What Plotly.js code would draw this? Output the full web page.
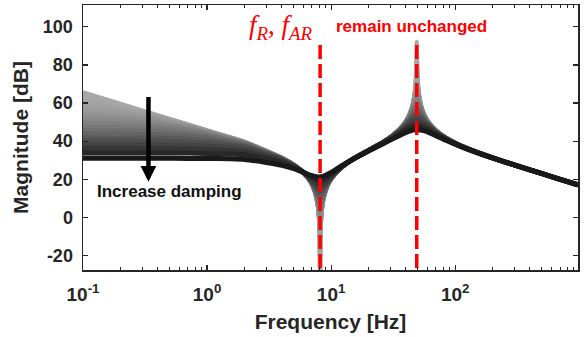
<!DOCTYPE html>
<html><head><meta charset="utf-8">
<script src="https://cdn.plot.ly/plotly-3.0.1.min.js"></script>
<style>html,body{margin:0;padding:0;background:#fff;} #chart{width:587px;height:337px;}</style>
</head><body><div id="chart"></div>
<script>
// ---- data ----
const freqHz = [0.1,0.2,0.4,0.7,1,1.5,2,3,4,5,6,6.8,7.4,7.8,8.0,8.15,8.3,8.6,9.2,10,12,15,20,26,32,38,42,45,47,48.2,49,49.8,51,53,56,61,70,85,110,150,250,400,650,977];

// magnitude [dB], lightest (least damping) -> darkest (most damping)
const dampCurve00 = [65.6,59.6,53.6,48.7,45.6,42.1,39.6,34.8,31.2,27.6,23.4,18.8,13.3,6.5,-1.0,-36,-1.1,8.3,15.4,20.0,25.9,30.5,35.2,39.4,43.5,48.3,52.8,58.0,64.3,72.3,92.0,72.5,64.7,58.8,54.2,49.9,45.6,41.6,37.8,34.2,29.1,24.9,20.6,17.0];
const dampCurve01 = [64.2,59.2,53.5,48.7,45.6,42.1,39.6,34.8,31.2,27.6,23.4,18.8,13.3,6.5,-1.0,-28,-1.1,8.3,15.4,20.0,25.9,30.5,35.2,39.4,43.5,48.3,52.8,58.0,64.2,72.1,84.7,72.3,64.6,58.8,54.2,49.9,45.6,41.6,37.8,34.2,29.1,24.9,20.6,17.0];
const dampCurve02 = [62.6,58.6,53.3,48.6,45.6,42.1,39.6,34.8,31.2,27.6,23.4,18.8,13.3,6.5,-0.9,-22,-1.1,8.3,15.4,20.0,25.9,30.5,35.2,39.4,43.5,48.3,52.8,58.0,64.2,71.7,80.3,71.9,64.6,58.8,54.2,49.9,45.6,41.6,37.8,34.2,29.1,24.9,20.6,17.0];
const dampCurve03 = [61.0,57.9,53.1,48.5,45.5,42.0,39.6,34.8,31.2,27.6,23.4,18.8,13.3,6.5,-0.9,-17,-1.0,8.3,15.4,20.0,25.9,30.5,35.2,39.4,43.5,48.3,52.8,58.0,64.0,71.1,77.0,71.2,64.4,58.8,54.2,49.9,45.6,41.6,37.8,34.2,29.1,24.9,20.6,17.0];
const dampCurve04 = [59.4,57.1,52.8,48.4,45.5,42.0,39.5,34.8,31.2,27.6,23.4,18.8,13.3,6.5,-0.7,-13,-0.9,8.3,15.4,20.0,25.9,30.5,35.2,39.4,43.5,48.3,52.8,57.9,63.9,70.2,74.2,70.3,64.2,58.7,54.2,49.9,45.6,41.6,37.8,34.2,29.1,24.9,20.6,17.0];
const dampCurve05 = [57.8,56.1,52.4,48.3,45.4,42.0,39.5,34.8,31.2,27.6,23.4,18.8,13.3,6.6,-0.4,-9,-0.5,8.4,15.4,20.0,25.9,30.5,35.2,39.4,43.5,48.3,52.8,57.9,63.5,69.0,71.7,69.1,63.9,58.6,54.1,49.9,45.6,41.6,37.8,34.2,29.1,24.9,20.6,17.0];
const dampCurve06 = [56.2,54.9,51.9,48.1,45.3,41.9,39.5,34.8,31.2,27.6,23.4,18.8,13.4,6.7,0.2,-6,0.1,8.4,15.4,20.0,25.9,30.5,35.2,39.4,43.5,48.3,52.7,57.7,63.1,67.6,69.4,67.7,63.4,58.5,54.1,49.9,45.6,41.6,37.8,34.2,29.1,24.9,20.6,17.0];
const dampCurve07 = [54.5,53.6,51.2,47.8,45.1,41.9,39.5,34.8,31.2,27.6,23.4,18.8,13.4,6.9,1.1,-3,1.0,8.6,15.5,20.1,25.9,30.5,35.2,39.4,43.5,48.3,52.7,57.6,62.5,66.1,67.3,66.2,62.8,58.3,54.0,49.8,45.6,41.6,37.8,34.2,29.1,24.9,20.6,17.0];
const dampCurve08 = [52.8,52.2,50.3,47.3,44.9,41.7,39.4,34.7,31.2,27.6,23.4,18.8,13.5,7.3,2.3,-0.5,2.2,8.8,15.5,20.1,25.9,30.5,35.2,39.4,43.5,48.2,52.6,57.3,61.7,64.5,65.3,64.6,62.0,58.0,53.9,49.8,45.6,41.6,37.8,34.2,29.1,24.9,20.6,17.0];
const dampCurve09 = [51.1,50.7,49.3,46.8,44.6,41.6,39.3,34.7,31.2,27.6,23.4,18.8,13.6,7.7,3.4,1.5,3.4,9.1,15.6,20.1,25.9,30.5,35.2,39.4,43.5,48.2,52.5,56.9,60.8,62.9,63.4,62.9,61.0,57.5,53.7,49.7,45.5,41.6,37.8,34.2,29.1,24.9,20.6,17.0];
const dampCurve10 = [49.4,49.1,48.1,46.1,44.1,41.4,39.2,34.6,31.1,27.6,23.4,18.9,13.7,8.2,4.8,3.5,4.8,9.5,15.7,20.1,25.9,30.5,35.2,39.4,43.4,48.1,52.3,56.4,59.7,61.3,61.6,61.3,59.9,57.0,53.5,49.6,45.5,41.6,37.8,34.2,29.1,24.9,20.6,17.0];
const dampCurve11 = [47.6,47.4,46.7,45.1,43.5,41.0,39.0,34.5,31.1,27.5,23.4,18.9,13.9,9.0,6.4,5.5,6.4,10.1,15.8,20.2,25.9,30.5,35.2,39.4,43.4,48.0,52.0,55.8,58.5,59.6,59.8,59.6,58.6,56.3,53.2,49.5,45.4,41.5,37.8,34.2,29.1,24.9,20.6,17.0];
const dampCurve12 = [45.8,45.7,45.2,44.0,42.7,40.6,38.7,34.4,31.0,27.5,23.4,19.0,14.3,10.0,8.1,7.5,8.1,10.9,16.0,20.2,25.9,30.5,35.1,39.4,43.4,47.9,51.7,55.0,57.1,57.9,58.0,57.9,57.2,55.4,52.7,49.3,45.4,41.5,37.8,34.2,29.1,24.9,20.6,17.0];
const dampCurve13 = [44.0,43.9,43.6,42.8,41.7,39.9,38.3,34.2,30.9,27.4,23.4,19.1,14.7,11.2,9.9,9.5,9.9,11.9,16.4,20.4,26.0,30.5,35.1,39.3,43.3,47.7,51.2,54.0,55.6,56.1,56.2,56.1,55.7,54.3,52.1,49.0,45.2,41.5,37.7,34.2,29.1,24.9,20.6,17.0];
const dampCurve14 = [42.1,42.0,41.8,41.3,40.5,39.1,37.7,33.9,30.7,27.3,23.4,19.3,15.4,12.6,11.7,11.5,11.8,13.2,16.8,20.5,26.0,30.5,35.1,39.3,43.2,47.4,50.5,52.9,54.1,54.4,54.5,54.5,54.1,53.2,51.4,48.6,45.1,41.4,37.7,34.2,29.1,24.9,20.6,17.0];
const dampCurve15 = [40.2,40.2,40.0,39.6,39.1,38.0,36.9,33.5,30.5,27.2,23.4,19.6,16.2,14.2,13.6,13.5,13.7,14.6,17.5,20.8,26.0,30.5,35.1,39.2,43.0,47.0,49.8,51.6,52.5,52.7,52.8,52.8,52.6,51.9,50.5,48.1,44.9,41.3,37.7,34.1,29.1,24.9,20.6,17.0];
const dampCurve16 = [38.2,38.2,38.1,37.8,37.5,36.7,35.8,32.8,30.1,27.0,23.5,20.1,17.3,15.9,15.6,15.5,15.6,16.3,18.4,21.2,26.1,30.5,35.0,39.1,42.8,46.4,48.8,50.3,50.9,51.1,51.1,51.1,51.0,50.5,49.4,47.5,44.6,41.2,37.6,34.1,29.1,24.9,20.6,17.0];
const dampCurve17 = [36.1,36.1,36.0,35.9,35.6,35.1,34.5,31.9,29.5,26.7,23.5,20.6,18.6,17.7,17.5,17.5,17.6,18.0,19.5,21.8,26.3,30.5,35.0,39.0,42.5,45.8,47.7,48.8,49.3,49.4,49.4,49.4,49.3,49.0,48.2,46.7,44.1,41.0,37.5,34.1,29.1,24.9,20.6,17.0];
const dampCurve18 = [33.8,33.8,33.8,33.7,33.5,33.2,32.8,30.7,28.7,26.3,23.6,21.4,20.1,19.6,19.5,19.5,19.6,19.9,20.9,22.6,26.5,30.5,34.9,38.7,42.0,44.9,46.5,47.3,47.6,47.7,47.7,47.7,47.7,47.4,46.9,45.7,43.6,40.7,37.4,34.0,29.1,24.9,20.6,17.0];
const dampCurve19 = [31.0,31.0,31.0,30.9,30.9,30.7,30.4,28.8,27.3,25.5,23.5,22.1,21.4,21.2,21.2,21.2,21.3,21.5,22.3,23.5,26.8,30.5,34.8,38.5,41.5,43.9,45.1,45.7,45.9,46.0,46.0,46.0,46.0,45.8,45.5,44.6,42.9,40.3,37.2,33.9,29.1,24.9,20.6,17.0];

const dampingCurves = [dampCurve00,dampCurve01,dampCurve02,dampCurve03,dampCurve04,dampCurve05,dampCurve06,dampCurve07,dampCurve08,dampCurve09,
                       dampCurve10,dampCurve11,dampCurve12,dampCurve13,dampCurve14,dampCurve15,dampCurve16,dampCurve17,dampCurve18,dampCurve19];

// f_R / f_AR markers
const markerFreqHz = [8.15, 49];
const markerDbSpan = [90.5, -28];

// ticks
const xTickVals = [0.1, 1, 10, 100];
const xTickText = ['10<sup>-1</sup>', '10<sup>0</sup>', '10<sup>1</sup>', '10<sup>2</sup>'];
const yTickVals = [-20, 0, 20, 40, 60, 80, 100];
const yTickText = ['-20', '0', '20', '40', '60', '80', '100'];

// ---- drawing ----
const AX = '#262626';
const FONT = 'Liberation Sans, Arial, Helvetica, sans-serif';
const traces = [];
const n = dampingCurves.length;
dampingCurves.forEach((ys, k) => {
  const t = k / (n - 1);
  const g = Math.round(168 - 143 * Math.pow(t, 2));
  traces.push({
    type: 'scatter', mode: 'lines', x: freqHz, y: ys,
    line: {color: `rgb(${g},${g},${g})`, width: k >= 15 ? 5 : 4.2, shape: 'spline', smoothing: 0.5},
    hoverinfo: 'skip', showlegend: false
  });
});
markerFreqHz.forEach(f => {
  traces.push({
    type: 'scatter', mode: 'lines', x: [f, f], y: markerDbSpan,
    line: {color: '#ff0000', width: 3.5, dash: '14px,5px'},
    hoverinfo: 'skip', showlegend: false
  });
});

const minorVals = [];
[0.1, 1, 10, 100].forEach(d => { for (let m = 2; m <= 9; m++) { if (d * m < 980) minorVals.push(d * m); } });

const layout = {
  width: 587, height: 337,
  margin: {l: 83, r: 9, t: 5, b: 67},
  paper_bgcolor: '#fff', plot_bgcolor: '#fff',
  showlegend: false, hovermode: false,
  xaxis: {
    type: 'log', range: [-1, Math.log10(977)],
    tickmode: 'array', tickvals: xTickVals, ticktext: xTickText,
    ticks: 'inside', ticklen: 5, tickwidth: 1.2, tickcolor: AX,
    minor: {tickmode: 'array', tickvals: minorVals, ticks: 'inside', ticklen: 3, tickwidth: 1, tickcolor: AX, showgrid: false},
    showline: true, linecolor: AX, linewidth: 1.5, mirror: 'ticks',
    showgrid: false, zeroline: false,
    tickfont: {family: FONT, size: 19, color: AX, weight: 'bold'},
    ticklabelstandoff: 7,
    title: {text: 'Frequency [Hz]', font: {family: FONT, size: 21, color: AX, weight: 'bold'}, standoff: 10}
  },
  yaxis: {
    range: [-27.7, 111.5],
    tickmode: 'array', tickvals: yTickVals, ticktext: yTickText,
    ticks: 'inside', ticklen: 5, tickwidth: 1.2, tickcolor: AX,
    showline: true, linecolor: AX, linewidth: 1.5, mirror: 'ticks',
    showgrid: false, zeroline: false,
    tickfont: {family: FONT, size: 18, color: AX, weight: 'bold'},
    ticklabelstandoff: 5,
    title: {text: 'Magnitude [dB]', font: {family: FONT, size: 21, color: AX, weight: 'bold'}, standoff: 8}
  },
  annotations: [
    {xref: 'x', yref: 'y', x: Math.log10(0.337), y: 18.7, axref: 'x', ayref: 'y', ax: Math.log10(0.337), ay: 64,
     showarrow: true, arrowhead: 2, arrowsize: 0.7, arrowwidth: 4.5, arrowcolor: '#000', text: ''},
    {xref: 'x', yref: 'y', x: Math.log10(0.5), y: 13.3, showarrow: false,
     text: 'Increase damping', font: {family: FONT, size: 17, color: '#111', weight: 'bold'}},
    {xref: 'x', yref: 'y', x: 0.596, y: 100.0, showarrow: false,
     text: '<i>f</i><sub><i>R</i></sub>, <i>f</i><sub><i>AR</i></sub>',
     font: {family: 'Liberation Serif, DejaVu Serif, serif', size: 27, color: '#ff0000'}},
    {xref: 'x', yref: 'y', x: 1.649, y: 100.4, showarrow: false,
     text: 'remain unchanged', font: {family: FONT, size: 17, color: '#ff0000', weight: 'bold'}}
  ]
};

Plotly.newPlot('chart', traces, layout, {staticPlot: true, displayModeBar: false});
</script>
</body></html>
